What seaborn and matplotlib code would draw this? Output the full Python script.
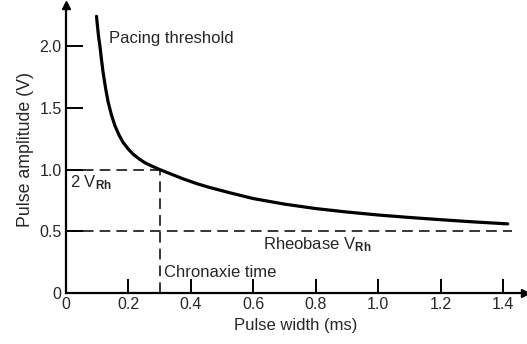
import matplotlib
matplotlib.use("Agg")
import matplotlib.pyplot as plt
import seaborn as sns
import pandas as pd

# Data
pulse_width = [0.098, 0.102, 0.105, 0.109, 0.114, 0.119, 0.127, 0.135, 0.145, 0.157,
               0.170, 0.183, 0.200, 0.215, 0.235, 0.253, 0.275, 0.300, 0.330, 0.375,
               0.420, 0.460, 0.520, 0.600, 0.700, 0.800, 0.900, 1.000, 1.100, 1.200,
               1.300, 1.415]
amplitude = [2.24, 2.14, 2.07, 2.00, 1.89, 1.79, 1.66, 1.55, 1.45, 1.355,
             1.28, 1.22, 1.165, 1.125, 1.085, 1.055, 1.028, 1.00, 0.97, 0.925,
             0.885, 0.855, 0.815, 0.765, 0.72, 0.684, 0.656, 0.632, 0.612, 0.594,
             0.577, 0.56]
rheobase = 0.5
double_rheobase = 1.0
chronaxie = 0.3
x_ticks = [0, 0.2, 0.4, 0.6, 0.8, 1.0, 1.2, 1.4]
x_tick_labels = ["0", "0.2", "0.4", "0.6", "0.8", "1.0", "1.2", "1.4"]
y_ticks = [0, 0.5, 1.0, 1.5, 2.0]
y_tick_labels = ["0", "0.5", "1.0", "1.5", "2.0"]

sns.set_style("white")
plt.rcParams["font.family"] = ["Liberation Sans", "DejaVu Sans"]
plt.rcParams["mathtext.fontset"] = "custom"
plt.rcParams["mathtext.rm"] = "Liberation Sans"
plt.rcParams["mathtext.it"] = "Liberation Sans"
plt.rcParams["mathtext.bf"] = "Liberation Sans:bold"

fig = plt.figure(figsize=(5.27, 3.44), dpi=100)
ax = fig.add_axes([0.125, 0.148, 0.871, 0.837])

df = pd.DataFrame({"w": pulse_width, "a": amplitude})
sns.lineplot(data=df, x="w", y="a", ax=ax, color="black", linewidth=2.3, sort=False)

dash = (7, 4)
ax.plot([0, 1.43], [rheobase, rheobase], color="black", lw=1.1, dashes=dash)
ax.plot([0, chronaxie], [double_rheobase, double_rheobase], color="black", lw=1.1, dashes=dash)
ax.plot([chronaxie, chronaxie], [0, double_rheobase], color="black", lw=1.1, dashes=dash)

fs = 12
ax.text(0.138, 2.06, "Pacing threshold", fontsize=fs, va="center", ha="left")
ax.text(0.012, 0.89, "2 V$_{\\mathbf{Rh}}$", fontsize=fs, va="center", ha="left")
ax.text(0.63, 0.39, "Rheobase V$_{\\mathbf{Rh}}$", fontsize=fs, va="center", ha="left")
ax.text(0.315, 0.17, "Chronaxie time", fontsize=fs, va="center", ha="left")

ax.set_xlim(0, 1.47)
ax.set_ylim(0, 2.33)
ax.set_xticks(x_ticks)
ax.set_xticklabels(x_tick_labels)
ax.set_yticks(y_ticks)
ax.set_yticklabels(y_tick_labels)
ax.tick_params(axis="x", bottom=True, direction="in", length=10, width=1.4, pad=3,
               labelsize=11.5, color="black")
ax.tick_params(axis="y", left=True, direction="in", length=12, width=1.4, pad=3,
               labelsize=11.5, color="black")
ax.set_xlabel("Pulse width (ms)", fontsize=12, labelpad=4)
ax.set_ylabel("Pulse amplitude (V)", fontsize=12.8, labelpad=4)

for s in ["top", "right"]:
    ax.spines[s].set_visible(False)
for s in ["left", "bottom"]:
    ax.spines[s].set_linewidth(1.6)
    ax.spines[s].set_color("black")

ax.plot(1, 0, ">", color="black", ms=6, transform=ax.transAxes, clip_on=False)
ax.plot(0, 1, "^", color="black", ms=6, transform=ax.transAxes, clip_on=False)

fig.savefig("out.png", dpi=100)
